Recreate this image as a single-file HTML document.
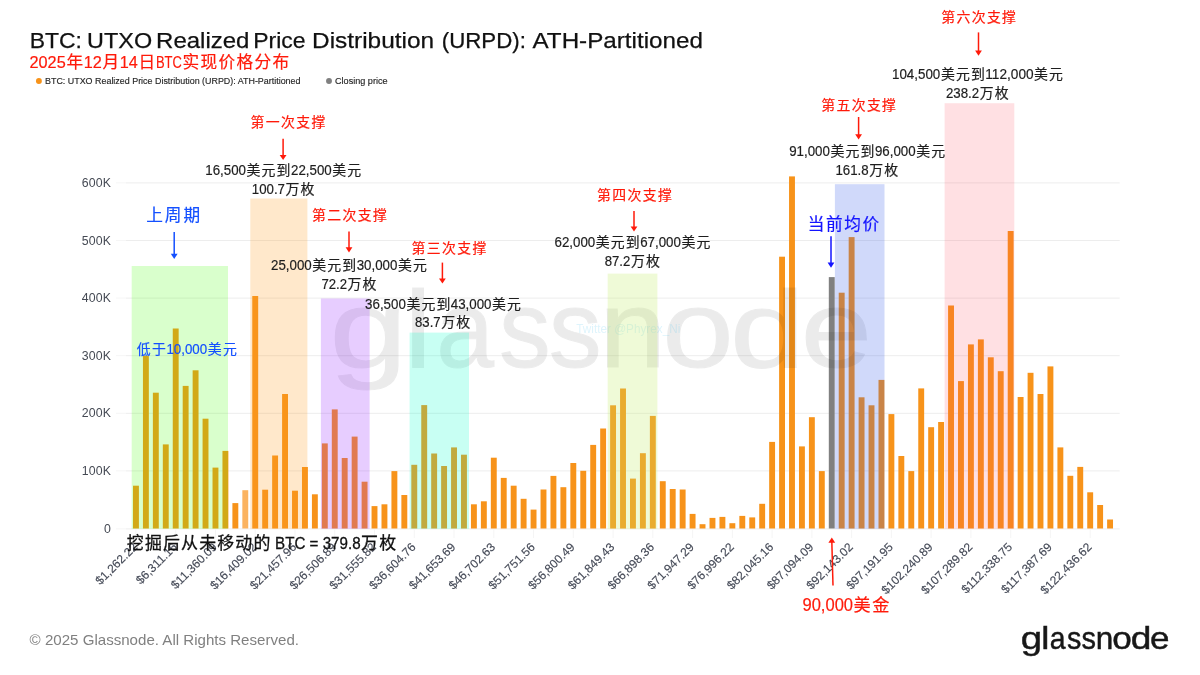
<!DOCTYPE html>
<html lang="zh-CN">
<head>
<meta charset="utf-8">
<title>BTC: UTXO Realized Price Distribution (URPD): ATH-Partitioned</title>
<style>
html,body{margin:0;padding:0;background:#fff;}
body{width:1200px;height:675px;overflow:hidden;}
svg{display:block;}
text{white-space:pre;}
.lat{font-family:"Liberation Sans",sans-serif;}
.cjk{font-family:"Liberation Sans","Noto Sans CJK SC",sans-serif;}
</style>
</head>
<body>
<svg width="1200" height="675" viewBox="0 0 1200 675">
<rect x="0" y="0" width="1200" height="675" fill="#ffffff"/>

<g id="grid">
<line x1="116" x2="126" y1="528.9" y2="528.9" stroke="#f6f6f6" stroke-width="1"/>
<line x1="126" x2="1119.7" y1="528.9" y2="528.9" stroke="#ededed" stroke-width="1"/>
<line x1="116" x2="126" y1="470.9" y2="470.9" stroke="#f6f6f6" stroke-width="1"/>
<line x1="126" x2="1119.7" y1="470.9" y2="470.9" stroke="#ededed" stroke-width="1"/>
<line x1="116" x2="126" y1="413.3" y2="413.3" stroke="#f6f6f6" stroke-width="1"/>
<line x1="126" x2="1119.7" y1="413.3" y2="413.3" stroke="#ededed" stroke-width="1"/>
<line x1="116" x2="126" y1="355.7" y2="355.7" stroke="#f6f6f6" stroke-width="1"/>
<line x1="126" x2="1119.7" y1="355.7" y2="355.7" stroke="#ededed" stroke-width="1"/>
<line x1="116" x2="126" y1="298.1" y2="298.1" stroke="#f6f6f6" stroke-width="1"/>
<line x1="126" x2="1119.7" y1="298.1" y2="298.1" stroke="#ededed" stroke-width="1"/>
<line x1="116" x2="126" y1="240.5" y2="240.5" stroke="#f6f6f6" stroke-width="1"/>
<line x1="126" x2="1119.7" y1="240.5" y2="240.5" stroke="#ededed" stroke-width="1"/>
<line x1="116" x2="126" y1="182.9" y2="182.9" stroke="#f6f6f6" stroke-width="1"/>
<line x1="126" x2="1119.7" y1="182.9" y2="182.9" stroke="#ededed" stroke-width="1"/>
</g>
<g id="ylabels" class="lat" font-size="12.3" fill="#454a54" text-anchor="end" letter-spacing="0.15">
<text x="111.0" y="532.6">0</text>
<text x="111.0" y="475.0">100K</text>
<text x="111.0" y="417.4">200K</text>
<text x="111.0" y="359.8">300K</text>
<text x="111.0" y="302.2">400K</text>
<text x="111.0" y="244.6">500K</text>
<text x="111.0" y="187.0">600K</text>
</g>
<g id="bars" fill="#f7931a">
<rect x="133.00" y="485.7" width="5.9" height="42.8"/>
<rect x="142.94" y="355.7" width="5.9" height="172.8"/>
<rect x="152.88" y="392.7" width="5.9" height="135.8"/>
<rect x="162.82" y="444.4" width="5.9" height="84.1"/>
<rect x="172.76" y="328.5" width="5.9" height="200.0"/>
<rect x="182.70" y="385.9" width="5.9" height="142.6"/>
<rect x="192.64" y="370.3" width="5.9" height="158.2"/>
<rect x="202.58" y="418.7" width="5.9" height="109.8"/>
<rect x="212.52" y="467.6" width="5.9" height="60.9"/>
<rect x="222.46" y="450.9" width="5.9" height="77.6"/>
<rect x="232.40" y="503.1" width="5.9" height="25.4"/>
<rect x="242.34" y="490.2" width="5.9" height="38.3" fill="#fbb360"/>
<rect x="252.28" y="296.0" width="5.9" height="232.5"/>
<rect x="262.22" y="489.7" width="5.9" height="38.8"/>
<rect x="272.16" y="455.5" width="5.9" height="73.0"/>
<rect x="282.10" y="394.0" width="5.9" height="134.5"/>
<rect x="292.04" y="490.7" width="5.9" height="37.8"/>
<rect x="301.98" y="467.0" width="5.9" height="61.5"/>
<rect x="311.92" y="494.3" width="5.9" height="34.2"/>
<rect x="321.86" y="443.4" width="5.9" height="85.1"/>
<rect x="331.80" y="409.4" width="5.9" height="119.1"/>
<rect x="341.74" y="458.0" width="5.9" height="70.5"/>
<rect x="351.68" y="436.6" width="5.9" height="91.9"/>
<rect x="361.62" y="481.7" width="5.9" height="46.8"/>
<rect x="371.56" y="506.1" width="5.9" height="22.4"/>
<rect x="381.50" y="504.3" width="5.9" height="24.2"/>
<rect x="391.44" y="471.1" width="5.9" height="57.4"/>
<rect x="401.38" y="495.0" width="5.9" height="33.5"/>
<rect x="411.32" y="464.8" width="5.9" height="63.7"/>
<rect x="421.26" y="405.1" width="5.9" height="123.4"/>
<rect x="431.20" y="453.5" width="5.9" height="75.0"/>
<rect x="441.14" y="466.0" width="5.9" height="62.5"/>
<rect x="451.08" y="447.4" width="5.9" height="81.1"/>
<rect x="461.02" y="454.7" width="5.9" height="73.8"/>
<rect x="470.96" y="504.3" width="5.9" height="24.2"/>
<rect x="480.90" y="501.3" width="5.9" height="27.2"/>
<rect x="490.84" y="457.7" width="5.9" height="70.8"/>
<rect x="500.78" y="477.9" width="5.9" height="50.6"/>
<rect x="510.72" y="485.7" width="5.9" height="42.8"/>
<rect x="520.66" y="498.8" width="5.9" height="29.7"/>
<rect x="530.60" y="509.6" width="5.9" height="18.9"/>
<rect x="540.54" y="489.5" width="5.9" height="39.0"/>
<rect x="550.48" y="475.9" width="5.9" height="52.6"/>
<rect x="560.42" y="487.2" width="5.9" height="41.3"/>
<rect x="570.36" y="463.0" width="5.9" height="65.5"/>
<rect x="580.30" y="470.8" width="5.9" height="57.7"/>
<rect x="590.24" y="444.9" width="5.9" height="83.6"/>
<rect x="600.18" y="428.5" width="5.9" height="100.0"/>
<rect x="610.12" y="405.3" width="5.9" height="123.2"/>
<rect x="620.06" y="388.5" width="5.9" height="140.0"/>
<rect x="630.00" y="478.6" width="5.9" height="49.9"/>
<rect x="639.94" y="453.2" width="5.9" height="75.3"/>
<rect x="649.88" y="415.9" width="5.9" height="112.6"/>
<rect x="659.82" y="481.2" width="5.9" height="47.3"/>
<rect x="669.76" y="489.0" width="5.9" height="39.5"/>
<rect x="679.70" y="489.5" width="5.9" height="39.0"/>
<rect x="689.64" y="513.9" width="5.9" height="14.6"/>
<rect x="699.58" y="524.2" width="5.9" height="4.3"/>
<rect x="709.52" y="517.9" width="5.9" height="10.6"/>
<rect x="719.46" y="516.9" width="5.9" height="11.6"/>
<rect x="729.40" y="523.2" width="5.9" height="5.3"/>
<rect x="739.34" y="515.9" width="5.9" height="12.6"/>
<rect x="749.28" y="517.4" width="5.9" height="11.1"/>
<rect x="759.22" y="503.8" width="5.9" height="24.7"/>
<rect x="769.16" y="441.9" width="5.9" height="86.6"/>
<rect x="779.10" y="256.7" width="5.9" height="271.8"/>
<rect x="789.04" y="176.4" width="5.9" height="352.1"/>
<rect x="798.98" y="446.4" width="5.9" height="82.1"/>
<rect x="808.92" y="417.2" width="5.9" height="111.3"/>
<rect x="818.86" y="471.1" width="5.9" height="57.4"/>
<rect x="828.80" y="277.1" width="5.9" height="251.4" fill="#808080"/>
<rect x="838.74" y="292.7" width="5.9" height="235.8"/>
<rect x="848.68" y="237.1" width="5.9" height="291.4"/>
<rect x="858.62" y="397.3" width="5.9" height="131.2"/>
<rect x="868.56" y="405.3" width="5.9" height="123.2"/>
<rect x="878.50" y="379.9" width="5.9" height="148.6"/>
<rect x="888.44" y="414.1" width="5.9" height="114.4"/>
<rect x="898.38" y="456.0" width="5.9" height="72.5"/>
<rect x="908.32" y="471.1" width="5.9" height="57.4"/>
<rect x="918.26" y="388.4" width="5.9" height="140.1"/>
<rect x="928.20" y="427.2" width="5.9" height="101.3"/>
<rect x="938.14" y="422.0" width="5.9" height="106.5"/>
<rect x="948.08" y="305.5" width="5.9" height="223.0"/>
<rect x="958.02" y="381.1" width="5.9" height="147.4"/>
<rect x="967.96" y="344.4" width="5.9" height="184.1"/>
<rect x="977.90" y="339.4" width="5.9" height="189.1"/>
<rect x="987.84" y="357.3" width="5.9" height="171.2"/>
<rect x="997.78" y="371.2" width="5.9" height="157.3"/>
<rect x="1007.72" y="231.0" width="5.9" height="297.5"/>
<rect x="1017.66" y="397.0" width="5.9" height="131.5"/>
<rect x="1027.60" y="372.8" width="5.9" height="155.7"/>
<rect x="1037.54" y="394.0" width="5.9" height="134.5"/>
<rect x="1047.48" y="366.4" width="5.9" height="162.1"/>
<rect x="1057.42" y="447.4" width="5.9" height="81.1"/>
<rect x="1067.36" y="475.8" width="5.9" height="52.7"/>
<rect x="1077.30" y="466.9" width="5.9" height="61.6"/>
<rect x="1087.24" y="492.3" width="5.9" height="36.2"/>
<rect x="1097.18" y="505.0" width="5.9" height="23.5"/>
<rect x="1107.12" y="519.5" width="5.9" height="9.0"/>
</g>
<text class="lat" aria-label="glassnode" y="367.2" font-size="109.5" opacity="0.074" fill="#000" stroke="#000" stroke-width="1.0"><tspan x="329.40" textLength="77.88" lengthAdjust="spacingAndGlyphs">g</tspan><tspan x="404.56" textLength="27.16" lengthAdjust="spacingAndGlyphs">l</tspan><tspan x="436.32" textLength="57.81" lengthAdjust="spacingAndGlyphs">a</tspan><tspan x="498.90" textLength="51.72" lengthAdjust="spacingAndGlyphs">s</tspan><tspan x="548.83" textLength="52.87" lengthAdjust="spacingAndGlyphs">s</tspan><tspan x="599.20" textLength="66.75" lengthAdjust="spacingAndGlyphs">n</tspan><tspan x="662.36" textLength="71.43" lengthAdjust="spacingAndGlyphs">o</tspan><tspan x="730.12" textLength="74.78" lengthAdjust="spacingAndGlyphs">d</tspan><tspan x="800.74" textLength="71.18" lengthAdjust="spacingAndGlyphs">e</tspan></text>
<text class="lat" x="576.3" y="333.1" font-size="12.7" fill="#5cc8f0" fill-opacity="0.2" textLength="104" lengthAdjust="spacingAndGlyphs">Twitter @Phyrex_Ni</text>
<g id="xticks" stroke="#f5f5f5" stroke-width="1">
<line x1="135.9" x2="135.9" y1="529" y2="538"/>
<line x1="175.7" x2="175.7" y1="529" y2="538"/>
<line x1="215.5" x2="215.5" y1="529" y2="538"/>
<line x1="255.2" x2="255.2" y1="529" y2="538"/>
<line x1="295.0" x2="295.0" y1="529" y2="538"/>
<line x1="334.7" x2="334.7" y1="529" y2="538"/>
<line x1="374.5" x2="374.5" y1="529" y2="538"/>
<line x1="414.3" x2="414.3" y1="529" y2="538"/>
<line x1="454.0" x2="454.0" y1="529" y2="538"/>
<line x1="493.8" x2="493.8" y1="529" y2="538"/>
<line x1="533.5" x2="533.5" y1="529" y2="538"/>
<line x1="573.3" x2="573.3" y1="529" y2="538"/>
<line x1="613.1" x2="613.1" y1="529" y2="538"/>
<line x1="652.8" x2="652.8" y1="529" y2="538"/>
<line x1="692.6" x2="692.6" y1="529" y2="538"/>
<line x1="732.4" x2="732.4" y1="529" y2="538"/>
<line x1="772.1" x2="772.1" y1="529" y2="538"/>
<line x1="811.9" x2="811.9" y1="529" y2="538"/>
<line x1="851.6" x2="851.6" y1="529" y2="538"/>
<line x1="891.4" x2="891.4" y1="529" y2="538"/>
<line x1="931.1" x2="931.1" y1="529" y2="538"/>
<line x1="970.9" x2="970.9" y1="529" y2="538"/>
<line x1="1010.7" x2="1010.7" y1="529" y2="538"/>
<line x1="1050.4" x2="1050.4" y1="529" y2="538"/>
<line x1="1090.2" x2="1090.2" y1="529" y2="538"/>
</g>
<g id="xlabels" class="lat" font-size="12" fill="#464b58" stroke="#464b58" stroke-width="0.15" text-anchor="end">
<text transform="translate(138.1,547.8) rotate(-45)" x="0" y="0">$1,262.22</text>
<text transform="translate(177.9,547.8) rotate(-45)" x="0" y="0">$6,311.16</text>
<text transform="translate(217.7,547.8) rotate(-45)" x="0" y="0">$11,360.09</text>
<text transform="translate(257.4,547.8) rotate(-45)" x="0" y="0">$16,409.02</text>
<text transform="translate(297.2,547.8) rotate(-45)" x="0" y="0">$21,457.96</text>
<text transform="translate(336.9,547.8) rotate(-45)" x="0" y="0">$26,506.89</text>
<text transform="translate(376.7,547.8) rotate(-45)" x="0" y="0">$31,555.82</text>
<text transform="translate(416.5,547.8) rotate(-45)" x="0" y="0">$36,604.76</text>
<text transform="translate(456.2,547.8) rotate(-45)" x="0" y="0">$41,653.69</text>
<text transform="translate(496.0,547.8) rotate(-45)" x="0" y="0">$46,702.63</text>
<text transform="translate(535.8,547.8) rotate(-45)" x="0" y="0">$51,751.56</text>
<text transform="translate(575.5,547.8) rotate(-45)" x="0" y="0">$56,800.49</text>
<text transform="translate(615.3,547.8) rotate(-45)" x="0" y="0">$61,849.43</text>
<text transform="translate(655.0,547.8) rotate(-45)" x="0" y="0">$66,898.36</text>
<text transform="translate(694.8,547.8) rotate(-45)" x="0" y="0">$71,947.29</text>
<text transform="translate(734.6,547.8) rotate(-45)" x="0" y="0">$76,996.22</text>
<text transform="translate(774.3,547.8) rotate(-45)" x="0" y="0">$82,045.16</text>
<text transform="translate(814.1,547.8) rotate(-45)" x="0" y="0">$87,094.09</text>
<text transform="translate(853.8,547.8) rotate(-45)" x="0" y="0">$92,143.02</text>
<text transform="translate(893.6,547.8) rotate(-45)" x="0" y="0">$97,191.95</text>
<text transform="translate(933.4,547.8) rotate(-45)" x="0" y="0">$102,240.89</text>
<text transform="translate(973.1,547.8) rotate(-45)" x="0" y="0">$107,289.82</text>
<text transform="translate(1012.9,547.8) rotate(-45)" x="0" y="0">$112,338.75</text>
<text transform="translate(1052.6,547.8) rotate(-45)" x="0" y="0">$117,387.69</text>
<text transform="translate(1092.4,547.8) rotate(-45)" x="0" y="0">$122,436.62</text>
</g>
<g id="regions">
<rect x="131.7" y="266.0" width="96.3" height="262.8" fill="#4aff0c" fill-opacity="0.21"/>
<rect x="250.3" y="198.5" width="57.1" height="330.3" fill="#ff9d1e" fill-opacity="0.23"/>
<rect x="320.9" y="298.5" width="48.7" height="230.3" fill="#9a30ff" fill-opacity="0.24"/>
<rect x="409.6" y="332.6" width="59.4" height="196.2" fill="#00ffc8" fill-opacity="0.215"/>
<rect x="607.7" y="273.6" width="49.7" height="255.2" fill="#c4ec6a" fill-opacity="0.27"/>
<rect x="834.9" y="184.2" width="49.6" height="344.6" fill="#2850e8" fill-opacity="0.22"/>
<rect x="944.6" y="103.2" width="69.7" height="425.6" fill="#ff4050" fill-opacity="0.16"/>
</g>
<g id="annotations">
<text y="127.2" font-size="15" fill="#ff1a0a" stroke="#ff1a0a" stroke-width="0.2"><tspan class="cjk" font-size="13.88" x="250.6" textLength="74.8" lengthAdjust="spacing">第一次支撑</tspan></text>
<line x1="283.1" y1="138.8" x2="283.1" y2="157.0" stroke="#ff1a0a" stroke-width="1.5"/>
<polygon points="279.70000000000005,154.9 286.5,154.9 283.1,160.1" fill="#ff1a0a"/>
<text y="174.6" font-size="15" fill="#1e1e1e" stroke="#1e1e1e" stroke-width="0.2"><tspan class="lat" font-size="14.40" x="205.3" textLength="40.7" lengthAdjust="spacingAndGlyphs">16,500</tspan><tspan class="cjk" font-size="13.88" x="246.6" textLength="43.9" lengthAdjust="spacing">美元到</tspan><tspan class="lat" font-size="14.40" x="291.0" textLength="40.7" lengthAdjust="spacingAndGlyphs">22,500</tspan><tspan class="cjk" font-size="13.88" x="332.3" textLength="28.9" lengthAdjust="spacing">美元</tspan></text>
<text y="193.6" font-size="15" fill="#1e1e1e" stroke="#1e1e1e" stroke-width="0.2"><tspan class="lat" font-size="14.40" x="251.8" textLength="33.2" lengthAdjust="spacingAndGlyphs">100.7</tspan><tspan class="cjk" font-size="13.88" x="285.6" textLength="28.9" lengthAdjust="spacing">万枚</tspan></text>
<text y="220.7" font-size="18" fill="#1450ff" stroke="#1450ff" stroke-width="0.2"><tspan class="cjk" font-size="16.65" x="146.2" textLength="54.0" lengthAdjust="spacing">上周期</tspan></text>
<line x1="174.2" y1="232" x2="174.2" y2="255.9" stroke="#1450ff" stroke-width="1.5"/>
<polygon points="170.79999999999998,253.8 177.6,253.8 174.2,259" fill="#1450ff"/>
<text y="219.8" font-size="15" fill="#ff1a0a" stroke="#ff1a0a" stroke-width="0.2"><tspan class="cjk" font-size="13.88" x="312.0" textLength="74.8" lengthAdjust="spacing">第二次支撑</tspan></text>
<line x1="349" y1="231.6" x2="349" y2="249.3" stroke="#ff1a0a" stroke-width="1.5"/>
<polygon points="345.6,247.2 352.4,247.2 349,252.4" fill="#ff1a0a"/>
<text y="270.2" font-size="15" fill="#1e1e1e" stroke="#1e1e1e" stroke-width="0.2"><tspan class="lat" font-size="14.40" x="271.0" textLength="40.7" lengthAdjust="spacingAndGlyphs">25,000</tspan><tspan class="cjk" font-size="13.88" x="312.3" textLength="43.9" lengthAdjust="spacing">美元到</tspan><tspan class="lat" font-size="14.40" x="356.7" textLength="40.7" lengthAdjust="spacingAndGlyphs">30,000</tspan><tspan class="cjk" font-size="13.88" x="398.0" textLength="28.9" lengthAdjust="spacing">美元</tspan></text>
<text y="289.2" font-size="15" fill="#1e1e1e" stroke="#1e1e1e" stroke-width="0.2"><tspan class="lat" font-size="14.40" x="321.4" textLength="25.6" lengthAdjust="spacingAndGlyphs">72.2</tspan><tspan class="cjk" font-size="13.88" x="347.6" textLength="28.9" lengthAdjust="spacing">万枚</tspan></text>
<text y="253.2" font-size="15" fill="#ff1a0a" stroke="#ff1a0a" stroke-width="0.2"><tspan class="cjk" font-size="13.88" x="411.6" textLength="74.8" lengthAdjust="spacing">第三次支撑</tspan></text>
<line x1="442.4" y1="262.6" x2="442.4" y2="280.5" stroke="#ff1a0a" stroke-width="1.5"/>
<polygon points="439.0,278.4 445.79999999999995,278.4 442.4,283.6" fill="#ff1a0a"/>
<text y="308.6" font-size="15" fill="#1e1e1e" stroke="#1e1e1e" stroke-width="0.2"><tspan class="lat" font-size="14.40" x="365.1" textLength="40.7" lengthAdjust="spacingAndGlyphs">36,500</tspan><tspan class="cjk" font-size="13.88" x="406.4" textLength="43.9" lengthAdjust="spacing">美元到</tspan><tspan class="lat" font-size="14.40" x="450.8" textLength="40.7" lengthAdjust="spacingAndGlyphs">43,000</tspan><tspan class="cjk" font-size="13.88" x="492.1" textLength="28.9" lengthAdjust="spacing">美元</tspan></text>
<text y="327.4" font-size="15" fill="#1e1e1e" stroke="#1e1e1e" stroke-width="0.2"><tspan class="lat" font-size="14.40" x="415.0" textLength="25.6" lengthAdjust="spacingAndGlyphs">83.7</tspan><tspan class="cjk" font-size="13.88" x="441.2" textLength="28.9" lengthAdjust="spacing">万枚</tspan></text>
<text y="353.7" font-size="15" fill="#1450ff" stroke="#1450ff" stroke-width="0.2"><tspan class="cjk" font-size="13.88" x="136.7" textLength="29.2" lengthAdjust="spacing">低于</tspan><tspan class="lat" font-size="14.40" x="166.4" textLength="40.7" lengthAdjust="spacingAndGlyphs">10,000</tspan><tspan class="cjk" font-size="13.88" x="207.7" textLength="29.2" lengthAdjust="spacing">美元</tspan></text>
<text y="199.8" font-size="15" fill="#ff1a0a" stroke="#ff1a0a" stroke-width="0.2"><tspan class="cjk" font-size="13.88" x="597.0" textLength="74.8" lengthAdjust="spacing">第四次支撑</tspan></text>
<line x1="634" y1="211" x2="634" y2="228.5" stroke="#ff1a0a" stroke-width="1.5"/>
<polygon points="630.6,226.4 637.4,226.4 634,231.6" fill="#ff1a0a"/>
<text y="247.0" font-size="15" fill="#1e1e1e" stroke="#1e1e1e" stroke-width="0.2"><tspan class="lat" font-size="14.40" x="554.5" textLength="40.7" lengthAdjust="spacingAndGlyphs">62,000</tspan><tspan class="cjk" font-size="13.88" x="595.8" textLength="43.9" lengthAdjust="spacing">美元到</tspan><tspan class="lat" font-size="14.40" x="640.2" textLength="40.7" lengthAdjust="spacingAndGlyphs">67,000</tspan><tspan class="cjk" font-size="13.88" x="681.5" textLength="28.9" lengthAdjust="spacing">美元</tspan></text>
<text y="265.8" font-size="15" fill="#1e1e1e" stroke="#1e1e1e" stroke-width="0.2"><tspan class="lat" font-size="14.40" x="604.7" textLength="25.6" lengthAdjust="spacingAndGlyphs">87.2</tspan><tspan class="cjk" font-size="13.88" x="630.9" textLength="28.9" lengthAdjust="spacing">万枚</tspan></text>
<text y="110.2" font-size="15" fill="#ff1a0a" stroke="#ff1a0a" stroke-width="0.2"><tspan class="cjk" font-size="13.88" x="821.2" textLength="74.8" lengthAdjust="spacing">第五次支撑</tspan></text>
<line x1="858.6" y1="117" x2="858.6" y2="136.3" stroke="#ff1a0a" stroke-width="1.5"/>
<polygon points="855.2,134.2 862.0,134.2 858.6,139.4" fill="#ff1a0a"/>
<text y="155.6" font-size="15" fill="#1e1e1e" stroke="#1e1e1e" stroke-width="0.2"><tspan class="lat" font-size="14.40" x="789.2" textLength="40.7" lengthAdjust="spacingAndGlyphs">91,000</tspan><tspan class="cjk" font-size="13.88" x="830.5" textLength="43.9" lengthAdjust="spacing">美元到</tspan><tspan class="lat" font-size="14.40" x="874.9" textLength="40.7" lengthAdjust="spacingAndGlyphs">96,000</tspan><tspan class="cjk" font-size="13.88" x="916.2" textLength="28.9" lengthAdjust="spacing">美元</tspan></text>
<text y="174.6" font-size="15" fill="#1e1e1e" stroke="#1e1e1e" stroke-width="0.2"><tspan class="lat" font-size="14.40" x="835.4" textLength="33.2" lengthAdjust="spacingAndGlyphs">161.8</tspan><tspan class="cjk" font-size="13.88" x="869.2" textLength="28.9" lengthAdjust="spacing">万枚</tspan></text>
<text y="230.0" font-size="18" fill="#1414ff" stroke="#1414ff" stroke-width="0.2"><tspan class="cjk" font-size="16.65" x="807.8" textLength="71.4" lengthAdjust="spacing">当前均价</tspan></text>
<line x1="831" y1="236.3" x2="831" y2="264.6" stroke="#1414ff" stroke-width="1.5"/>
<polygon points="827.6,262.5 834.4,262.5 831,267.7" fill="#1414ff"/>
<text y="22.2" font-size="15" fill="#ff1a0a" stroke="#ff1a0a" stroke-width="0.2"><tspan class="cjk" font-size="13.88" x="941.2" textLength="74.8" lengthAdjust="spacing">第六次支撑</tspan></text>
<line x1="978.5" y1="32.4" x2="978.5" y2="52.7" stroke="#ff1a0a" stroke-width="1.5"/>
<polygon points="975.1,50.6 981.9,50.6 978.5,55.8" fill="#ff1a0a"/>
<text y="79.2" font-size="15" fill="#1e1e1e" stroke="#1e1e1e" stroke-width="0.2"><tspan class="lat" font-size="14.40" x="892.0" textLength="48.3" lengthAdjust="spacingAndGlyphs">104,500</tspan><tspan class="cjk" font-size="13.88" x="940.9" textLength="43.9" lengthAdjust="spacing">美元到</tspan><tspan class="lat" font-size="14.40" x="985.3" textLength="48.3" lengthAdjust="spacingAndGlyphs">112,000</tspan><tspan class="cjk" font-size="13.88" x="1034.1" textLength="28.9" lengthAdjust="spacing">美元</tspan></text>
<text y="98.0" font-size="15" fill="#1e1e1e" stroke="#1e1e1e" stroke-width="0.2"><tspan class="lat" font-size="14.40" x="945.9" textLength="33.2" lengthAdjust="spacingAndGlyphs">238.2</tspan><tspan class="cjk" font-size="13.88" x="979.7" textLength="28.9" lengthAdjust="spacing">万枚</tspan></text>
<text y="549.1" font-size="18" fill="#101010" stroke="#101010" stroke-width="0.3"><tspan class="cjk" font-size="16.92" x="126.8" textLength="143.5" lengthAdjust="spacing">挖掘后从未移动的</tspan><tspan class="lat" font-size="17.28" x="270.9" textLength="89.7" lengthAdjust="spacingAndGlyphs"> BTC = 379.8</tspan><tspan class="cjk" font-size="16.92" x="361.1" textLength="35.1" lengthAdjust="spacing">万枚</tspan></text>
<line x1="833.0" y1="585.6" x2="831.8" y2="540.7" stroke="#ff1a0a" stroke-width="1.5"/>
<polygon points="828.4,542.8 835.1999999999999,542.8 831.8,537.6" fill="#ff1a0a"/>
<text y="611.3" font-size="18.6" fill="#ff1a0a" stroke="#ff1a0a" stroke-width="0.2"><tspan class="lat" font-size="17.86" x="802.5" textLength="50.5" lengthAdjust="spacingAndGlyphs">90,000</tspan><tspan class="cjk" font-size="17.21" x="853.6" textLength="35.8" lengthAdjust="spacing">美金</tspan></text>
</g>
<g id="header">
<text class="lat" y="48.3" font-size="22.3" fill="#111" stroke="#111" stroke-width="0.25"><tspan x="29.76" textLength="52.25" lengthAdjust="spacingAndGlyphs">BTC:</tspan> <tspan x="87.13" textLength="64.99" lengthAdjust="spacingAndGlyphs">UTXO</tspan> <tspan x="156.08" textLength="93.39" lengthAdjust="spacingAndGlyphs">Realized</tspan> <tspan x="253.16" textLength="52.35" lengthAdjust="spacingAndGlyphs">Price</tspan> <tspan x="312.05" textLength="122.07" lengthAdjust="spacingAndGlyphs">Distribution</tspan> <tspan x="441.76" textLength="84.18" lengthAdjust="spacingAndGlyphs">(URPD):</tspan> <tspan x="532.50" textLength="170.39" lengthAdjust="spacingAndGlyphs">ATH-Partitioned</tspan></text>
<text y="68.2" font-size="18" fill="#ff1a0a" stroke="#ff1a0a" stroke-width="0.2"><tspan class="lat" font-size="17.28" x="29.5" textLength="36.2" lengthAdjust="spacingAndGlyphs">2025</tspan><tspan class="cjk" font-size="16.65" x="66.4" textLength="16.7" lengthAdjust="spacing">年</tspan><tspan class="lat" font-size="17.28" x="83.7" textLength="18.1" lengthAdjust="spacingAndGlyphs">12</tspan><tspan class="cjk" font-size="16.65" x="102.5" textLength="16.7" lengthAdjust="spacing">月</tspan><tspan class="lat" font-size="17.28" x="119.8" textLength="18.1" lengthAdjust="spacingAndGlyphs">14</tspan><tspan class="cjk" font-size="16.65" x="138.6" textLength="16.7" lengthAdjust="spacing">日</tspan><tspan class="lat" font-size="17.28" x="155.9" textLength="25.9" lengthAdjust="spacingAndGlyphs">BTC</tspan><tspan class="cjk" font-size="16.65" x="182.5" textLength="106.7" lengthAdjust="spacing">实现价格分布</tspan></text>
<circle cx="38.9" cy="81.0" r="2.95" fill="#f7931a"/>
<text class="lat" x="45" y="84.2" font-size="9.6" fill="#262626" stroke="#262626" stroke-width="0.15" textLength="255.5" lengthAdjust="spacingAndGlyphs">BTC: UTXO Realized Price Distribution (URPD): ATH-Partitioned</text>
<circle cx="329.0" cy="81.0" r="2.95" fill="#808080"/>
<text class="lat" x="335" y="84.2" font-size="9.6" fill="#262626" stroke="#262626" stroke-width="0.15" textLength="52.6" lengthAdjust="spacingAndGlyphs">Closing price</text>
</g>
<g id="footer">
<text class="lat" x="29.6" y="645" font-size="15" fill="#808080" textLength="269.4" lengthAdjust="spacingAndGlyphs">© 2025 Glassnode. All Rights Reserved.</text>
<text class="lat" aria-label="glassnode" y="649.2" font-size="31.4" fill="#171717" stroke="#171717" stroke-width="0.45"><tspan x="1020.76" textLength="21.38" lengthAdjust="spacingAndGlyphs">g</tspan><tspan x="1041.22" textLength="8.15" lengthAdjust="spacingAndGlyphs">l</tspan><tspan x="1049.72" textLength="15.81" lengthAdjust="spacingAndGlyphs">a</tspan><tspan x="1066.94" textLength="14.37" lengthAdjust="spacingAndGlyphs">s</tspan><tspan x="1081.53" textLength="14.48" lengthAdjust="spacingAndGlyphs">s</tspan><tspan x="1095.75" textLength="17.54" lengthAdjust="spacingAndGlyphs">n</tspan><tspan x="1112.29" textLength="19.56" lengthAdjust="spacingAndGlyphs">o</tspan><tspan x="1130.82" textLength="20.64" lengthAdjust="spacingAndGlyphs">d</tspan><tspan x="1150.12" textLength="19.50" lengthAdjust="spacingAndGlyphs">e</tspan></text>
</g>
</svg>
</body>
</html>
